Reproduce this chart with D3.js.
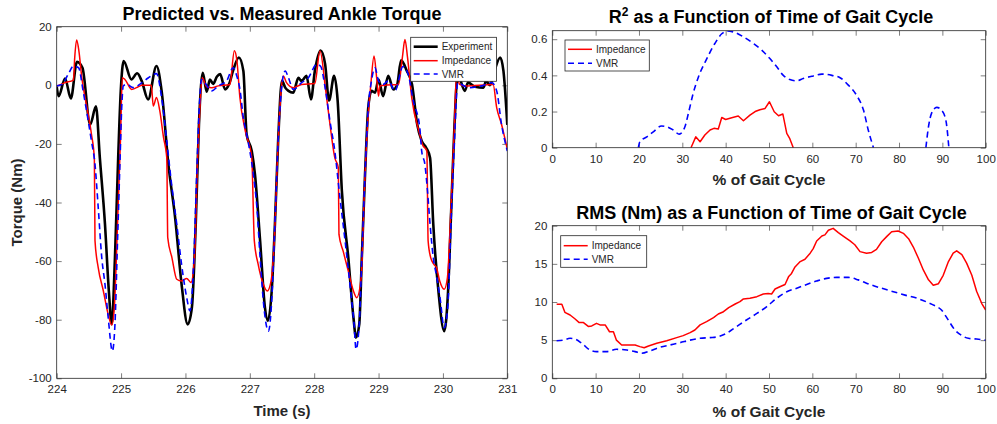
<!DOCTYPE html>
<html lang="en">

<head>
    <meta charset="UTF-8">
    <title>Ankle Torque Prediction</title>
    <style>
        body {
            margin: 0;
            padding: 0;
            background-color: #fff;
            font-family: "Liberation Sans", Arial, Helvetica, sans-serif;
        }

        svg text {
            font-family: "Liberation Sans", Arial, Helvetica, sans-serif;
        }

        .tick text {
            font-size: 11.5px;
            fill: #262626;
        }

        .tick line {
            stroke: #262626;
            stroke-width: 0.6;
        }
    </style>
</head>

<body>
    <svg id="chart" width="997" height="424"></svg>

    <script src="https://d3js.org/d3.v7.min.js"></script>
    <script>
        // ---- left panel: torque over time ----
        const timeTicks = [224, 225, 226, 227, 228, 229, 230, 231];
        const torqueTicks = [-100, -80, -60, -40, -20, 0, 20];

        const expTime = [224.0, 224.03, 224.13, 224.22, 224.315, 224.40, 224.52, 224.61, 224.67, 224.75, 224.81, 224.855, 224.905, 224.955, 224.995,
            225.04, 225.16, 225.25, 225.32, 225.42, 225.55, 225.63, 225.735, 225.84, 225.94, 226.035, 226.10, 226.16, 226.21,
            226.27, 226.33, 226.38, 226.43, 226.49, 226.54, 226.615, 226.68, 226.74, 226.83, 226.90, 226.95, 227.03, 227.08, 227.16, 227.235, 227.28, 227.34, 227.39, 227.44,
            227.50, 227.55, 227.60, 227.675, 227.755, 227.80, 227.83, 227.88, 227.95, 228.01, 228.10, 228.17, 228.23, 228.31, 228.365, 228.43, 228.53, 228.61, 228.65, 228.70, 228.74, 228.79, 228.84,
            228.89, 228.945, 229.00, 229.07, 229.15, 229.23, 229.29, 229.35, 229.44, 229.52, 229.60, 229.67, 229.74, 229.80, 229.85, 229.93, 230.02, 230.08, 230.13, 230.18,
            230.23, 230.34, 230.39, 230.50, 230.63, 230.67, 230.73, 230.80, 230.89, 230.94, 231.0];
        const expTorque = [-0.5, -3.7, 2.3, -4.5, 8.0, 6.0, -13.4, -7.2, -24.7, -47.4, -70.2, -81.5, -58.8, -24.7, -2.0,
            8.3, 2.0, 4.1, 1.5, -4.8, 6.6, -1.9, -27, -45.2, -67.9, -81.6, -75.9, -47.4, -13.3,
            4.3, -2.2, 2.0, 0.5, 3.0, 3.8, -1.4, 0.5, 5.0, 9.5, 4.9, -16.7, -22.4, -30.4, -53.1, -75.9, -80.4, -70.2, -47.4, -19,
            1.5, -0.8, -1.9, -2.5, 2.6, 1.5, 2.0, 3.2, -4.8, 4.9, 11.9, 7.2, -5.2, 3.2, -5.4, -36, -58.8, -79.3, -86.1, -81.6, -58.8, -30.4, -7.6,
            -1.9, -2.5, 2.0, -3.7, 3.2, -1.4, 0.3, 8.5, 4.9, 0.3, -13.3, -19, -21.3, -24.7, -47.4, -70.2, -83.9, -70.2, -41.7, -13.3,
            3.8, -1.9, 0.9, -0.5, -0.8, 1.5, 0.0, 4.9, 9.5, 4.9, -13.5];

        const impTime = [224.0, 224.13, 224.26, 224.28, 224.31, 224.345, 224.39, 224.47, 224.54, 224.585, 224.595, 224.645, 224.725, 224.80, 224.855, 224.895, 224.945, 224.99,
            225.02, 225.06, 225.165, 225.24, 225.33, 225.47, 225.50, 225.55, 225.60, 225.66, 225.71, 225.725, 225.79, 225.865, 225.94, 226.02, 226.085, 226.14, 226.19, 226.225,
            226.26, 226.33, 226.41, 226.51, 226.69, 226.76, 226.80, 226.845, 226.93, 227.03, 227.07, 227.13, 227.21, 227.27, 227.33, 227.38, 227.43, 227.485,
            227.52, 227.57, 227.675, 227.805, 228.01, 228.09, 228.18, 228.245, 228.32, 228.375, 228.385, 228.45, 228.53, 228.61, 228.66, 228.73, 228.78, 228.83, 228.88,
            228.93, 228.97, 229.00, 229.02, 229.13, 229.31, 229.37, 229.41, 229.45, 229.515, 229.64, 229.68, 229.75, 229.77, 229.81, 229.86, 229.90, 229.95, 230.02, 230.07, 230.125, 230.18,
            230.21, 230.26, 230.34, 230.78, 230.835, 230.91, 231.0];
        const impTorque = [-0.3, 0.9, 1.8, 9.5, 15.5, 11.7, 2.6, -7.6, -16.7, -25, -53, -62.2, -70.2, -78.2, -81.8, -75.9, -47.4, -19,
            2.6, 2.0, -1.4, -0.8, 0.0, 0.0, -7.1, -4.2, -8.5, -17.9, -24.7, -52, -58.8, -66.2, -66.8, -65.9, -67.3, -58.8, -24.7, -7.6,
            2.6, -0.5, -0.8, -0.2, 0.3, 11.8, 8.3, -4, -15.6, -24.7, -53.1, -61.1, -67.9, -70.2, -66.8, -53.1, -24.7, -1.9,
            3.2, 0.9, -0.8, 0.3, 0.6, 11.7, -1.9, -13.3, -24.7, -28.1, -50.9, -56.6, -63.4, -70.2, -72.5, -65.6, -36, -13.3, 0.3,
            10.0, 2.6, -3.7, -0.2, 0.1, 0.3, 9.5, 15.6, 9.5, -4.2, -16.7, -20.1, -22.4, -53.1, -58.8, -61.1, -62.2, -66.8, -69.6, -65.6, -41.7, -13.3,
            3.8, 0.3, -0.2, 0.3, -7.6, -13.3, -21.8];

        const vmrTime = [224.0, 224.08, 224.18, 224.26, 224.34, 224.41, 224.49, 224.54, 224.595, 224.645, 224.70, 224.75, 224.80, 224.865, 224.905, 224.945, 224.985, 225.01,
            225.035, 225.09, 225.19, 225.30, 225.42, 225.55, 225.63, 225.71, 225.785, 225.865, 225.94, 226.02, 226.07, 226.12, 226.175, 226.215,
            226.25, 226.30, 226.41, 226.51, 226.64, 226.74, 226.80, 226.85, 226.90, 226.95, 227.00, 227.055, 227.11, 227.16, 227.225, 227.29, 227.34, 227.39, 227.44,
            227.50, 227.55, 227.60, 227.675, 227.805, 227.91, 228.04, 228.10, 228.17, 228.245, 228.32, 228.40, 228.48, 228.555, 228.62, 228.65, 228.70, 228.74, 228.79, 228.84,
            228.89, 228.945, 229.00, 229.07, 229.15, 229.255, 229.38, 229.46, 229.54, 229.64, 229.67, 229.72, 229.76, 229.80, 229.85, 229.905, 229.955, 230.02, 230.075, 230.125, 230.18,
            230.23, 230.29, 230.395, 230.60, 230.76, 230.835, 230.91, 231.0];
        const vmrTorque = [-0.2, 0.3, 3.8, 6.6, 6.0, -1.9, -12.2, -19, -27, -41.7, -58.8, -67.9, -79.3, -90.7, -81.6, -53.1, -24.7, -7.6,
            -0.2, 0.3, -0.8, 0.5, 2.5, 4.0, -4.2, -19, -33.8, -47.4, -61.1, -72.5, -77, -64.5, -30.4, -7.6,
            2.0, 0.9, -1.9, -0.2, 1.5, 6.0, 3.0, -1.9, -11.2, -16.7, -22.4, -30.4, -41.7, -58.8, -77, -83.9, -73.6, -47.4, -19,
            0.3, 4.9, 2.6, -1.4, 0.9, 2.6, 7.2, 6.5, -0.8, -12.2, -22.4, -38.3, -53.1, -67.9, -81.6, -90.1, -81.6, -58.8, -30.4, -7.6,
            1.5, 6.0, 1.5, 0.3, 1.5, -1.9, 6.4, 3.8, -5.4, -14.4, -22.4, -27, -36, -47.4, -58.8, -65.6, -72.5, -82.7, -75.9, -47.4, -19,
            0.9, 0.3, -0.8, -0.2, 0.9, -1.9, -13.3, -22.4];

        // ---- right panels: gait cycle ----
        const pctTicks = [0, 10, 20, 30, 40, 50, 60, 70, 80, 90, 100];
        const r2Ticks = [0, 0.2, 0.4, 0.6];
        const rmsTicks = [0, 5, 10, 15, 20];

        const r2ImpPct = [32, 33.1, 34.1, 35.2, 36.4, 37.3, 38.3, 39.1, 40, 41.4, 42.9, 44.1, 45.6, 46.8, 47.9, 49.1, 50.1, 51.2, 52.2, 53.2, 54.1, 54.8, 55.6];
        const r2ImpVal = [0, 0.06, 0.033, 0.07, 0.098, 0.107, 0.103, 0.167, 0.156, 0.166, 0.175, 0.149, 0.18, 0.20, 0.21, 0.217, 0.254, 0.199, 0.177, 0.186, 0.079, 0.05, 0];

        // null marks where the VMR R² falls below zero
        const r2VmrPct = [19.85, 20.2, 21.8, 23.3, 25.2, 26.4, 27.9, 29.3, 30.6, 31.4, 32.5, 33.7, 35.6, 37.5, 39.1, 40.4, 41.8, 44.1, 46.4, 48.3, 50.2, 51.8, 53.3, 54.8,
            56.4, 57.9, 60.2, 62.2, 64.5, 66.4, 68.3, 70.2, 71.8, 72.9, 74.1, 80, 86.2, 86.8, 87.5, 88.7, 89.8, 90.8, 91.5];
        const r2VmrVal = [0, 0.033, 0.06, 0.088, 0.12, 0.116, 0.098, 0.075, 0.116, 0.19, 0.3, 0.39, 0.49, 0.576, 0.63, 0.646, 0.64, 0.613, 0.576, 0.54, 0.493, 0.447, 0.40, 0.377,
            0.37, 0.383, 0.397, 0.407, 0.40, 0.387, 0.346, 0.29, 0.208, 0.098, 0, null, 0, 0.116, 0.19, 0.223, 0.208, 0.153, 0];

        const rmsImpPct = [1, 2.2, 2.9, 4.1, 5.2, 6.2, 7.2, 8.3, 9.1, 10.2, 11, 12.2, 13.2, 14.1, 14.8, 16, 17.5, 19.1, 20.2, 21.2, 22.2, 24.1, 26.4, 28.7, 30.2,
            31.8, 32.9, 34.1, 35.6, 37.2, 38.3, 39.5, 40.7, 42.2, 43.3, 44.1, 45.6, 47.2, 48.7, 49.8, 50.6, 51.4, 52.5, 53.7, 54.5, 55.2, 56, 57.2, 58.3, 59.5,
            60.2, 61, 62.2, 62.9, 63.7, 64.8, 66, 67.2, 68.7, 69.8, 71, 72.5, 73.7, 74.8, 76, 77.2, 78.3, 79.8, 81, 82.2, 83.3, 84.5, 85.6, 86.8, 87.9,
            89.1, 90.2, 91.4, 92.5, 93.3, 94.5, 95.6, 96.8, 97.9, 99.1, 100];
        const rmsImpVal = [9.7, 9.7, 8.65, 8.3, 7.8, 7.3, 7.3, 6.8, 6.86, 7.2, 7.0, 7.0, 6.1, 6.1, 5.0, 4.37, 4.37, 4.37, 4.15, 4.0, 4.24, 4.59, 4.93, 5.33, 5.59,
            5.98, 6.33, 7.0, 7.42, 7.95, 8.43, 8.73, 9.26, 9.74, 10.04, 10.4, 10.5, 10.7, 11.05, 11.1, 11.05, 11.7, 12.0, 12.3, 13.3, 13.75, 14.6, 15.3, 15.6, 16.4,
            17.0, 18.0, 18.65, 18.8, 19.4, 19.65, 19.1, 18.6, 18.0, 17.5, 16.6, 16.4, 16.5, 16.9, 17.9, 18.6, 19.2, 19.3, 19.0, 18.3, 17.2, 15.7, 14.2, 12.9, 12.2,
            12.4, 13.5, 15.3, 16.4, 16.7, 16.2, 15.1, 13.5, 11.4, 9.8, 8.95];

        const rmsVmrPct = [1, 2.5, 4.1, 5.2, 6.8, 8.7, 10.2, 12.5, 14.8, 17.2, 19.1, 20.6, 22.5, 24.8, 27.2, 29.5, 31.8, 34.1, 36.4, 38.3, 40.2, 42.5, 44.8, 47.2,
            49.5, 51.8, 54.1, 56.4, 58.7, 61, 63.3, 65.6, 68.3, 70.6, 73.3, 76, 78.7, 81.4, 84.1, 86.4, 88.3, 89.8, 91.4, 92.9, 94.5, 96, 97.9, 100];
        const rmsVmrVal = [4.93, 5.0, 5.24, 5.15, 4.59, 3.7, 3.5, 3.5, 3.8, 3.7, 3.5, 3.28, 3.58, 4.06, 4.37, 4.67, 5.0, 5.24, 5.33, 5.46, 5.9, 6.77, 7.64, 8.5,
            9.4, 10.5, 11.35, 11.8, 12.3, 12.75, 13.1, 13.23, 13.23, 12.9, 12.3, 11.8, 11.35, 10.9, 10.5, 10.0, 9.5, 8.95, 7.6, 6.33, 5.6, 5.24, 5.15, 5.0];

        const svg = d3.select('#chart');
        const axisColor = '#262626';
        const tickLen = 5;

        const zip = (xs, ys) => xs.map((x, i) => ({ x, y: ys[i] }));

        // draws the background, inward ticks on all four sides and tick labels
        function drawFrame(g, x, y, xTicks, yTicks, id) {
            const [x0, x1] = x.range();
            const [y0, y1] = y.range();

            g.append('defs').append('clipPath').attr('id', id)
                .append('rect')
                .attr('x', x0).attr('y', y1)
                .attr('width', x1 - x0).attr('height', y0 - y1);

            g.append('rect')
                .attr('x', x0).attr('y', y1)
                .attr('width', x1 - x0).attr('height', y0 - y1)
                .attr('fill', '#fff');

            const fmt = d => String(d);

            g.append('g').attr('transform', `translate(0,${y0})`)
                .call(d3.axisBottom(x).tickValues(xTicks).tickFormat(fmt).tickSize(-tickLen).tickPadding(7))
                .call(a => a.select('.domain').remove());
            g.append('g').attr('transform', `translate(0,${y1})`)
                .call(d3.axisTop(x).tickValues(xTicks).tickFormat('').tickSize(-tickLen))
                .call(a => a.select('.domain').remove());
            g.append('g').attr('transform', `translate(${x0},0)`)
                .call(d3.axisLeft(y).tickValues(yTicks).tickFormat(fmt).tickSize(-tickLen).tickPadding(5))
                .call(a => a.select('.domain').remove());
            g.append('g').attr('transform', `translate(${x1},0)`)
                .call(d3.axisRight(y).tickValues(yTicks).tickFormat('').tickSize(-tickLen))
                .call(a => a.select('.domain').remove());

            g.selectAll('.tick text').style('font-family', '"Liberation Sans", Arial, sans-serif');
        }

        function drawBox(g, x, y) {
            const [x0, x1] = x.range();
            const [y0, y1] = y.range();
            g.append('rect')
                .attr('x', x0).attr('y', y1)
                .attr('width', x1 - x0).attr('height', y0 - y1)
                .attr('fill', 'none')
                .attr('stroke', axisColor)
                .attr('stroke-width', 0.8);
        }

        function drawLine(g, pts, x, y, style, id, curve) {
            const line = d3.line()
                .defined(d => d.y !== null)
                .x(d => x(d.x))
                .y(d => y(d.y))
                .curve(curve);
            g.append('path')
                .datum(pts)
                .attr('clip-path', `url(#${id})`)
                .attr('fill', 'none')
                .attr('stroke', style.color)
                .attr('stroke-width', style.width)
                .attr('stroke-dasharray', style.dash || null)
                .attr('stroke-linejoin', 'round')
                .attr('d', line);
        }

        function drawLegend(g, x, y, w, h, items) {
            const lg = g.append('g');
            lg.append('rect')
                .attr('x', x).attr('y', y).attr('width', w).attr('height', h)
                .attr('fill', '#fff').attr('stroke', axisColor).attr('stroke-width', 0.8);
            items.forEach(it => {
                const cy = y + it.dy;
                lg.append('line')
                    .attr('x1', x + 3).attr('x2', x + 27)
                    .attr('y1', cy).attr('y2', cy)
                    .attr('stroke', it.color)
                    .attr('stroke-width', it.width)
                    .attr('stroke-dasharray', it.dash || null);
                lg.append('text')
                    .attr('x', x + 31).attr('y', cy + 3.6)
                    .attr('font-size', '10px')
                    .attr('fill', axisColor)
                    .text(it.label);
            });
        }

        const expStyle = { color: '#000', width: 2.6 };
        const impStyle = { color: '#ff0000', width: 1.5 };
        const vmrStyle = { color: '#0000ff', width: 1.6, dash: '6,4' };

        // ---- left panel ----
        const xT = d3.scaleLinear().domain([224, 231]).range([56.7, 507.3]);
        const yT = d3.scaleLinear().domain([-100, 20]).range([378.3, 26.7]);
        const gL = svg.append('g');
        drawFrame(gL, xT, yT, timeTicks, torqueTicks, 'clipL');
        drawLine(gL, zip(expTime, expTorque), xT, yT, expStyle, 'clipL', d3.curveMonotoneX);
        drawLine(gL, zip(impTime, impTorque), xT, yT, impStyle, 'clipL', d3.curveMonotoneX);
        drawLine(gL, zip(vmrTime, vmrTorque), xT, yT, vmrStyle, 'clipL', d3.curveMonotoneX);
        drawBox(gL, xT, yT);
        drawLegend(gL, 410.7, 37.3, 85.8, 44, [
            { label: 'Experiment', dy: 9.4, ...expStyle },
            { label: 'Impedance', dy: 23.4, ...impStyle },
            { label: 'VMR', dy: 36.7, ...vmrStyle }
        ]);

        gL.append('text')
            .attr('x', 282).attr('y', 20)
            .attr('text-anchor', 'middle')
            .attr('font-size', '18px').attr('font-weight', 'bold')
            .text('Predicted vs. Measured Ankle Torque');
        gL.append('text')
            .attr('x', 282).attr('y', 416)
            .attr('text-anchor', 'middle')
            .attr('font-size', '15px').attr('font-weight', 'bold')
            .attr('fill', axisColor)
            .text('Time (s)');
        gL.append('text')
            .attr('transform', 'translate(22,202.5) rotate(-90)')
            .attr('text-anchor', 'middle')
            .attr('font-size', '15px').attr('font-weight', 'bold')
            .attr('fill', axisColor)
            .text('Torque (Nm)');

        // ---- right top: R² ----
        const xP = d3.scaleLinear().domain([0, 100]).range([552.3, 985.7]);
        const yR2 = d3.scaleLinear().domain([0, 0.647]).range([147.7, 30.7]);
        const gR = svg.append('g');
        drawFrame(gR, xP, yR2, pctTicks, r2Ticks, 'clipR2');
        drawLine(gR, zip(r2ImpPct, r2ImpVal), xP, yR2, impStyle, 'clipR2', d3.curveLinear);
        drawLine(gR, zip(r2VmrPct, r2VmrVal), xP, yR2, vmrStyle, 'clipR2', d3.curveMonotoneX);
        drawBox(gR, xP, yR2);
        drawLegend(gR, 565, 40, 84.3, 31, [
            { label: 'Impedance', dy: 9.3, ...impStyle },
            { label: 'VMR', dy: 23.3, ...vmrStyle }
        ]);
        const t2 = gR.append('text')
            .attr('x', 771).attr('y', 23)
            .attr('text-anchor', 'middle')
            .attr('font-size', '18px').attr('font-weight', 'bold');
        t2.append('tspan').text('R');
        t2.append('tspan').attr('font-size', '12px').attr('dy', -7).text('2');
        t2.append('tspan').attr('dy', 7).text(' as a Function of Time of Gait Cycle');
        gR.append('text')
            .attr('x', 769).attr('y', 185)
            .attr('text-anchor', 'middle')
            .attr('font-size', '15.5px').attr('font-weight', 'bold')
            .attr('fill', axisColor)
            .text('% of Gait Cycle');

        // ---- right bottom: RMS ----
        const yRms = d3.scaleLinear().domain([0, 20]).range([378.3, 225.7]);
        const gB = svg.append('g');
        drawFrame(gB, xP, yRms, pctTicks, rmsTicks, 'clipRms');
        drawLine(gB, zip(rmsImpPct, rmsImpVal), xP, yRms, impStyle, 'clipRms', d3.curveLinear);
        drawLine(gB, zip(rmsVmrPct, rmsVmrVal), xP, yRms, vmrStyle, 'clipRms', d3.curveMonotoneX);
        drawBox(gB, xP, yRms);
        drawLegend(gB, 560.7, 235.7, 86, 31.6, [
            { label: 'Impedance', dy: 10, ...impStyle },
            { label: 'VMR', dy: 23.6, ...vmrStyle }
        ]);
        gB.append('text')
            .attr('x', 771.5).attr('y', 219)
            .attr('text-anchor', 'middle')
            .attr('font-size', '18px').attr('font-weight', 'bold')
            .text('RMS (Nm) as a Function of Time of Gait Cycle');
        gB.append('text')
            .attr('x', 769).attr('y', 416.5)
            .attr('text-anchor', 'middle')
            .attr('font-size', '15.5px').attr('font-weight', 'bold')
            .attr('fill', axisColor)
            .text('% of Gait Cycle');
    </script>
</body>

</html>
